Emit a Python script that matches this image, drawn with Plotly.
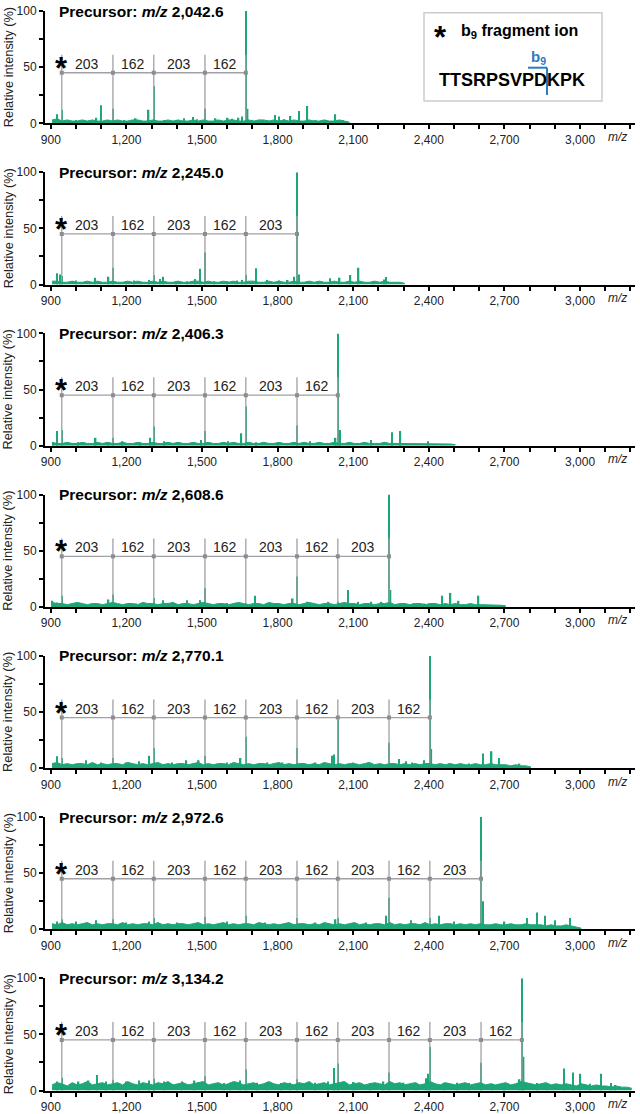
import plotly.graph_objects as go

# ---------------- data ----------------
PRECURSORS = ["2,042.6", "2,245.0", "2,406.3", "2,608.6", "2,770.1", "2,972.6", "3,134.2"]

LADDER_MZ = [943.5, 1146.6, 1308.6, 1511.7, 1673.8, 1876.8, 2038.9, 2242.0, 2404.0, 2607.1, 2769.2]
LADDER_STEP_LABELS = ["203", "162", "203", "162", "203", "162", "203", "162", "203", "162"]
LADDER_COUNTS = [5, 6, 7, 8, 9, 10, 11]

X_TICKS = list(range(900, 3201, 100))
X_LABELLED = [900, 1200, 1500, 1800, 2100, 2400, 2700, 3000]
Y_TICKS = [0, 25, 50, 75, 100]
Y_TICK_TEXT = ["0", "", "50", "", "100"]

NOISE_START = 905
NOISE_STEP = 20

NOISE_1 = [3,4,2,3,2,2,3,2,3,2, 2,3,2,3,2,2,3,3,2,2, 3,2,2,3,2,3,2,2,3,2, 3,2,2,3,2,3,3,2,2,3,
           2,3,3,2,3,2,3,2,3,2, 2,3,2,2,3,2,2,3,2,1]
NOISE_2 = [3,3,2,2,3,2,2,3,2,3, 2,2,3,2,2,3,2,3,2,2, 3,2,3,2,2,3,2,2,3,3, 2,3,2,2,3,2,3,2,2,3,
           3,2,2,3,2,3,2,2,3,2, 2,3,2,3,2,2,3,2,2,3, 2,3,2,2,3,2,3,2,2,2, 1]
NOISE_3 = [3,2,2,3,2,2,3,2,2,3, 2,3,2,2,3,2,2,3,2,2, 3,2,2,3,2,3,2,2,3,2, 2,3,2,2,3,2,3,2,2,3,
           2,2,3,2,2,3,2,2,3,2, 3,2,2,3,2,2,3,2,2,3, 2,2,3,2,2,2,3,2,2,2, 2,2,2,1.5,2,1.5,2,1.5,1.5,1.5, 1]
NOISE_4 = [4,3,3,2,3,4,3,2,3,3, 2,3,4,3,2,3,3,2,4,3, 3,2,3,3,4,2,3,3,2,3, 4,3,2,3,3,2,3,4,3,2,
           3,3,2,4,3,3,2,3,3,2, 3,4,3,2,3,3,2,3,4,3, 3,2,3,3,2,3,3,4,2,3, 3,2,3,3,2,3,3,2,3,2,
           3,2,2,3,2,2,2,2,2,1.5, 1]
NOISE_5 = [4,5,3,4,3,4,4,3,5,3, 4,3,4,4,3,5,4,3,4,3, 4,5,3,4,3,4,4,3,4,5, 3,4,3,4,4,3,5,4,3,4,
           3,4,4,3,4,5,3,4,3,4, 4,3,4,3,5,4,3,4,3,4, 4,3,4,5,3,4,3,4,4,3, 4,3,4,3,4,4,3,4,3,4,
           3,4,3,3,4,3,3,4,3,3, 3,2,3,2,2,1]
NOISE_6 = [5,4,6,4,5,4,5,6,4,5, 4,5,5,4,6,4,5,4,5,5, 4,6,4,5,4,5,5,4,5,6, 4,5,4,5,6,4,5,4,5,5,
           4,6,5,4,5,4,5,6,4,5, 5,4,5,4,6,5,4,5,4,5, 6,4,5,4,5,5,4,6,4,5, 4,5,5,4,6,4,5,4,5,5,
           4,5,4,5,4,5,4,4,5,4, 4,5,4,4,5,4,4,4,3,4, 3,3,4,3,2,1]
NOISE_7 = [5,7,6,4,7,5,6,8,5,6, 7,5,6,7,5,8,6,5,7,6, 5,7,6,8,5,6,7,5,6,7, 8,5,6,7,5,6,8,7,5,6,
           7,5,6,8,6,5,7,6,5,7, 6,8,5,6,7,5,6,7,8,5, 6,7,5,6,7,6,5,8,6,7, 5,6,7,5,6,8,6,5,7,6,
           5,6,7,5,6,7,5,6,5,6, 7,5,6,8,7,6,5,6,7,5, 6,5,6,5,4,6,5,4,5,4, 4,3,4,3,3,2]

PEAKS_1 = [(926, 8), (943.5, 12), (1000, 3), (1030, 2.5), (1081, 5), (1100, 16), (1146.6, 13),
           (1190, 3), (1237, 4.5), (1288, 12), (1308.6, 33), (1350, 3), (1400, 3), (1428, 4.5),
           (1464, 5.5), (1480, 3.5), (1511.7, 13), (1554, 4.5), (1602, 5), (1620, 4), (1645, 5),
           (1658, 6), (1673.8, 100), (1681, 13), (1700, 3), (1740, 3), (1760, 3), (1789, 7.5),
           (1805, 6), (1825, 3.5), (1851, 6.5), (1885, 11), (1918, 15.5), (1951, 3), (1990, 3),
           (2029, 8), (2060, 3)]
PEAKS_2 = [(925, 10), (937, 9), (943.5, 7.5), (1000, 3.5), (1076, 6), (1129, 7), (1146.6, 15),
           (1200, 3), (1230, 3.5), (1290, 4), (1308.6, 8.5), (1333, 5), (1346, 7), (1398, 3),
           (1440, 3), (1472, 5), (1493, 14), (1511.7, 28.5), (1550, 3), (1602, 3), (1640, 3.5),
           (1660, 4), (1673.8, 8.5), (1715, 14.5), (1757, 4), (1806, 3.5), (1840, 4), (1865, 7),
           (1876.8, 100), (1885, 9), (1960, 3), (2007, 5.5), (2046, 6), (2089, 8.5), (2121, 15),
           (2180, 3), (2222, 4.5), (2231, 6.6)]
PEAKS_3 = [(908, 3), (925, 13), (943.5, 14), (1009, 3), (1078, 7), (1129, 3), (1147, 7), (1185, 4),
           (1254, 3), (1293, 7), (1308.6, 17), (1351, 4), (1495, 5), (1511.7, 13), (1604, 4),
           (1656, 11), (1673.8, 35), (1714, 3), (1801, 3), (1876.8, 18), (1929, 4), (2030, 7),
           (2038.9, 100), (2048, 14), (2171, 5), (2253, 12), (2287, 13), (2397, 4)]
PEAKS_4 = [(905, 5.4), (925, 4), (943.5, 10), (1009, 3.6), (1129, 6.6), (1146.6, 11), (1240, 3),
           (1270, 3), (1308.6, 8), (1346, 6), (1441, 6), (1493, 6), (1511.7, 16.5), (1600, 3.5),
           (1630, 3), (1673.8, 3), (1711, 10), (1790, 3), (1860, 7.5), (1876.8, 27), (1916, 4.5),
           (2002, 4.5), (2038.9, 4.5), (2079, 15), (2120, 4.5), (2171, 4.5), (2212, 4.5),
           (2242.0, 100), (2248, 15), (2340, 3), (2380, 3), (2420, 3), (2452, 10), (2486, 12.5),
           (2518, 5.4), (2597, 10)]
PEAKS_5 = [(924, 10.5), (943.5, 9), (1040, 7), (1100, 5), (1146.6, 9), (1200, 5), (1251, 6),
           (1290, 11), (1308.6, 18), (1380, 5), (1438, 7), (1487, 7), (1511.7, 11), (1600, 5),
           (1653, 9), (1673.8, 28), (1760, 5), (1820, 5), (1876.8, 18), (1950, 5), (2015, 11),
           (2024, 12), (2038.9, 43), (2100, 5), (2160, 5), (2242.0, 22.5), (2281, 8), (2309, 6),
           (2335, 5), (2381, 7), (2404.0, 100), (2410, 17), (2480, 4), (2530, 4), (2560, 4),
           (2615, 13), (2649, 15), (2679, 9), (2760, 4)]
PEAKS_6 = [(925, 7), (943.5, 9), (1000, 7), (1080, 8), (1146.6, 9), (1200, 6), (1290, 7),
           (1308.6, 10), (1400, 6), (1511.7, 11), (1600, 7), (1673.8, 12), (1750, 6), (1876.8, 10),
           (1950, 6), (2030, 9), (2038.9, 10), (2150, 6), (2230, 12), (2242.0, 28), (2330, 8),
           (2404.0, 10), (2440, 12), (2500, 7), (2607.1, 100), (2614, 25), (2700, 7), (2790, 10),
           (2830, 15), (2860, 12), (2900, 8), (2960, 10)]
PEAKS_7 = [(925, 8), (943.5, 11.4), (1010, 8), (1050, 9), (1084, 13.8), (1120, 8), (1146.6, 9.6),
           (1200, 8), (1250, 9), (1290, 9), (1308.6, 10.5), (1350, 8), (1420, 8), (1470, 9),
           (1511.7, 12.6), (1588, 6.6), (1612, 7), (1650, 9), (1673.8, 19), (1718, 7), (1760, 7),
           (1816, 6.6), (1850, 7), (1876.8, 10), (1950, 7), (2000, 8), (2024, 20), (2038.9, 24),
           (2102, 7.5), (2168, 6.6), (2220, 8), (2242.0, 16), (2300, 7), (2350, 7), (2388, 11),
           (2396, 15), (2404.0, 38.7), (2460, 7), (2511, 7), (2560, 6.6), (2607.1, 24.6),
           (2650, 6), (2700, 6), (2760, 10), (2769.2, 100), (2776, 30), (2830, 6.6), (2871, 6),
           (2936, 19.5), (2972, 16), (3001, 15), (3040, 6), (3083, 15), (3124, 6.6), (3140, 5)]

NOISES = [NOISE_1, NOISE_2, NOISE_3, NOISE_4, NOISE_5, NOISE_6, NOISE_7]
PEAKS = [PEAKS_1, PEAKS_2, PEAKS_3, PEAKS_4, PEAKS_5, PEAKS_6, PEAKS_7]

# ---------------- styling / layout ----------------
W, H = 640, 1114
X_RANGE = [877, 3218]
PX_LEFT, PX_RIGHT = 45, 635
TOP0, BASE0, STEP = 11.0, 123.3, 161.2
GREEN = "#1DA678"
GRAY = "rgb(160,160,166)"
FONT = "Liberation Sans, Arial, Helvetica, sans-serif"
LADDER_TOP = 61
LADDER_Y = 45
BLUE = "#2B7BBE"


def py(px):
    return 1 - px / H


def pxx(px):
    return px / W


fig = go.Figure()
annotations = []
shapes = []
layout_axes = {}

for k in range(7):
    sfx = "" if k == 0 else str(k + 1)
    xa, ya = "x" + sfx, "y" + sfx
    top_px = TOP0 + STEP * k
    base_px = BASE0 + STEP * k

    layout_axes["xaxis" + sfx] = dict(
        domain=[pxx(PX_LEFT), pxx(PX_RIGHT)], anchor=ya, range=X_RANGE,
        tickvals=X_TICKS,
        ticktext=[f"{v:,}" if v in X_LABELLED else "" for v in X_TICKS],
        ticks="outside", ticklen=4, tickwidth=1.5, tickcolor="black",
        showline=True, linewidth=2, linecolor="black", automargin=False,
        showgrid=False, zeroline=False, fixedrange=True,
        tickfont=dict(size=12, color="#222", family=FONT),
    )
    layout_axes["yaxis" + sfx] = dict(
        domain=[py(base_px), py(top_px)], anchor=xa, range=[0, 100],
        tickvals=Y_TICKS, ticktext=Y_TICK_TEXT,
        ticks="outside", ticklen=4, tickwidth=1.5, tickcolor="black",
        showline=True, linewidth=2, linecolor="black", automargin=False,
        showgrid=False, zeroline=False, fixedrange=True,
        tickfont=dict(size=12, color="#222", family=FONT),
    )

    # ladder
    n = LADDER_COUNTS[k]
    lad = LADDER_MZ[:n]
    vx, vy = [], []
    for m in lad:
        vx += [m, m, None]
        vy += [0, LADDER_TOP, None]
    fig.add_trace(go.Scatter(x=vx, y=vy, mode="lines", line=dict(color=GRAY, width=1.3),
                             xaxis=xa, yaxis=ya, hoverinfo="skip", showlegend=False))
    fig.add_trace(go.Scatter(x=lad, y=[LADDER_Y] * n, mode="lines+markers",
                             line=dict(color=GRAY, width=1.3),
                             marker=dict(symbol="square", size=4, color="rgb(140,140,146)"),
                             xaxis=xa, yaxis=ya, hoverinfo="skip", showlegend=False))

    # spectrum: background noise + peaks
    noise = NOISES[k]
    nx = [NOISE_START + i * NOISE_STEP for i in range(len(noise))]
    fig.add_trace(go.Scatter(x=nx, y=noise, mode="lines", fill="tozeroy",
                             line=dict(color=GREEN, width=1), fillcolor=GREEN,
                             xaxis=xa, yaxis=ya, hoverinfo="skip", showlegend=False))
    pk = PEAKS[k]
    fig.add_trace(go.Bar(x=[p[0] for p in pk], y=[p[1] for p in pk], width=6,
                         marker=dict(color=GREEN, line=dict(width=0)),
                         xaxis=xa, yaxis=ya, hoverinfo="skip", showlegend=False))

    # ladder labels
    for i in range(n - 1):
        annotations.append(dict(x=(lad[i] + lad[i + 1]) / 2, y=53, xref=xa, yref=ya,
                                text=LADDER_STEP_LABELS[i], showarrow=False,
                                font=dict(size=14, color="#222", family=FONT),
                                xanchor="center", yanchor="middle"))
    annotations.append(dict(x=lad[0], y=49, xref=xa, yref=ya, text="<b>*</b>",
                            showarrow=False, font=dict(size=31, color="black", family=FONT),
                            xanchor="center", yanchor="middle"))

    # title
    annotations.append(dict(x=pxx(57), y=py(top_px), xref="paper", yref="paper",
                            text=f"<b>Precursor: <i>m/z</i> {PRECURSORS[k]}</b>",
                            showarrow=False, font=dict(size=15.5, color="black", family=FONT),
                            xanchor="left", yanchor="middle"))
    # y title
    annotations.append(dict(x=pxx(8), y=py((top_px + base_px) / 2), xref="paper", yref="paper",
                            text="Relative intensity (%)", textangle=-90, showarrow=False,
                            font=dict(size=12.8, color="#222", family=FONT),
                            xanchor="center", yanchor="middle"))
    # m/z axis label
    annotations.append(dict(x=3150, xref=xa, y=py(base_px + 13.5), yref="paper",
                            text="<i>m/z</i>", showarrow=False,
                            font=dict(size=12, color="#222", family=FONT),
                            xanchor="center", yanchor="middle"))

# legend box
shapes.append(dict(type="rect", xref="paper", yref="paper", x0=pxx(424), x1=pxx(602),
                   y0=py(101), y1=py(12.7), line=dict(color="#CCCCCC", width=1.5)))
annotations.append(dict(x=pxx(440), y=py(37), xref="paper", yref="paper", text="<b>*</b>",
                        showarrow=False, font=dict(size=31, color="black", family=FONT),
                        xanchor="center", yanchor="middle"))
annotations.append(dict(x=pxx(459), y=py(32), xref="paper", yref="paper",
                        text="<b>b<sub>9</sub> fragment ion</b>", showarrow=False,
                        font=dict(size=16, color="black", family=FONT),
                        xanchor="left", yanchor="middle"))
annotations.append(dict(x=pxx(437), y=py(80), xref="paper", yref="paper",
                        text="<b>TTSRPSVPDKPK</b>", showarrow=False,
                        font=dict(size=18, color="black", family=FONT),
                        xanchor="left", yanchor="middle"))
annotations.append(dict(x=pxx(538), y=py(57), xref="paper", yref="paper",
                        text="<b>b<sub>9</sub></b>", showarrow=False,
                        font=dict(size=15, color=BLUE, family=FONT),
                        xanchor="center", yanchor="middle"))
shapes.append(dict(type="line", xref="paper", yref="paper", x0=pxx(528), x1=pxx(547),
                   y0=py(67.7), y1=py(67.7), line=dict(color=BLUE, width=2)))
shapes.append(dict(type="line", xref="paper", yref="paper", x0=pxx(547), x1=pxx(547),
                   y0=py(67.7), y1=py(95), line=dict(color=BLUE, width=2)))

fig.update_layout(
    width=W, height=H, margin=dict(l=0, r=0, t=0, b=0, autoexpand=False),
    paper_bgcolor="white", plot_bgcolor="white",
    showlegend=False, barmode="overlay",
    font=dict(family=FONT, color="#222"),
    annotations=annotations, shapes=shapes,
    **layout_axes,
)

fig.write_html("out.html", config={"displayModeBar": False},
               post_script="document.body.style.margin='0px';document.body.style.padding='0px';")
